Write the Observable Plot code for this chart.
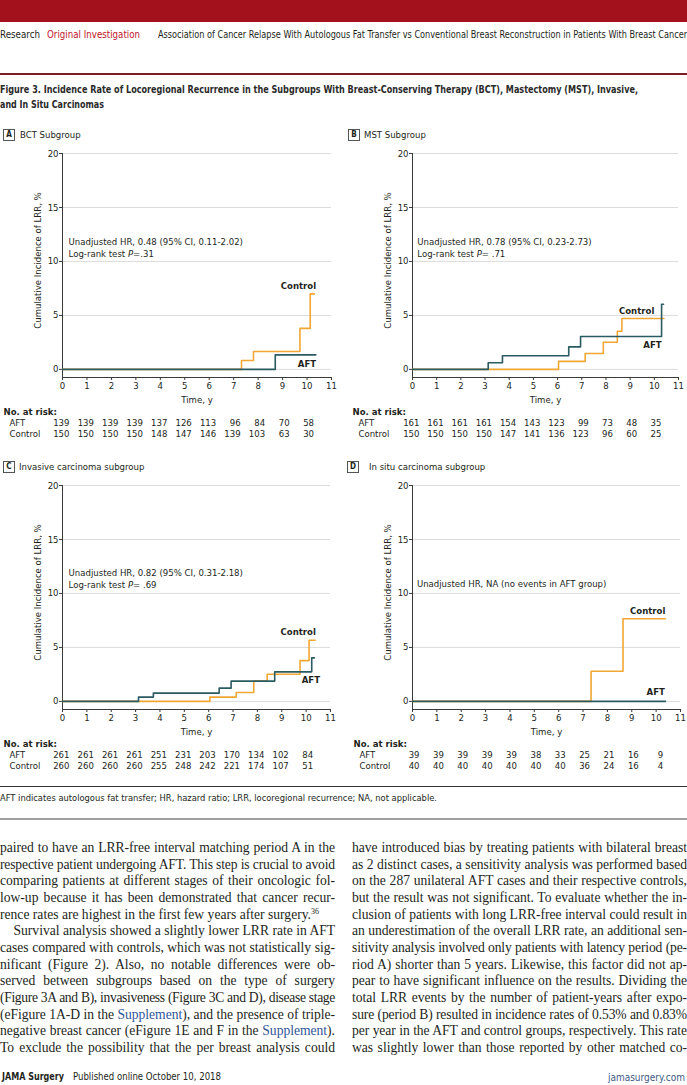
<!DOCTYPE html>
<html><head><meta charset="utf-8">
<script src="https://cdn.jsdelivr.net/npm/d3@7"></script>
<script src="https://cdn.jsdelivr.net/npm/@observablehq/plot@0.6"></script>
<style>
html,body{margin:0;padding:0;background:#fff;}
#page{position:relative;width:687px;height:1085px;overflow:hidden;color:#231f20;
  font-family:"Liberation Sans Narrow","DejaVu Sans Condensed","Open Sans",sans-serif;}
.abs{position:absolute;white-space:nowrap;}
.fit{transform-origin:0 50%;}
.box{position:absolute;width:10px;height:10px;border:1px solid #555;font-size:8px;font-weight:bold;line-height:10px;text-align:center;}
.ptitle{position:absolute;font-size:9.5px;line-height:12px;white-space:nowrap;}
.body{position:absolute;font-family:"Liberation Serif","DejaVu Serif",serif;font-size:13.6px;color:#231f20;}
.ln{height:16.67px;line-height:16.67px;white-space:nowrap;text-align:justify;text-align-last:justify;overflow:visible;}
.ln.last{text-align-last:left;}
.sup{font-size:8px;vertical-align:5px;line-height:0;}
.link{color:#2f5597;}
svg{position:absolute;overflow:visible;}
</style></head>
<body><div id="page">
<div class="abs" style="left:0;top:0;width:687px;height:22px;background:#a3111c;"></div>
<div class="abs fit" data-w="40" style="left:0;top:29px;font-size:10px;line-height:12px;">Research</div>
<div class="abs fit" data-w="93" style="left:47px;top:29px;font-size:10px;line-height:12px;color:#c0142a;">Original Investigation</div>
<div class="abs fit" data-w="529" style="left:158px;top:29px;font-size:10px;line-height:12px;">Association of Cancer Relapse With Autologous Fat Transfer vs Conventional Breast Reconstruction in Patients With Breast Cancer</div>
<div class="abs" style="left:0;top:73px;width:687px;height:2px;background:#7d1b25;"></div>
<div class="abs fit" data-w="638" style="left:0;top:83px;font-size:10.5px;line-height:13px;font-weight:bold;color:#2a2a2a;">Figure 3. Incidence Rate of Locoregional Recurrence in the Subgroups With Breast-Conserving Therapy (BCT), Mastectomy (MST), Invasive,</div>
<div class="abs fit" data-w="104" style="left:0;top:98px;font-size:10.5px;line-height:13px;font-weight:bold;color:#2a2a2a;">and In Situ Carcinomas</div>

<div class="box" style="left:3px;top:129px;">A</div><div class="ptitle" style="left:20px;top:129px;">BCT Subgroup</div>
<div class="box" style="left:348px;top:129px;">B</div><div class="ptitle" style="left:364px;top:129px;">MST Subgroup</div>
<div class="box" style="left:3px;top:461px;">C</div><div class="ptitle" style="left:19px;top:461px;">Invasive carcinoma subgroup</div>
<div class="box" style="left:347px;top:461px;">D</div><div class="ptitle" style="left:369px;top:461px;">In situ carcinoma subgroup</div>

<div class="abs" style="left:0;top:786px;width:687px;height:1px;background:#333;"></div>
<div class="abs fit" data-w="437" style="left:0;top:792px;font-size:9.5px;line-height:12px;">AFT indicates autologous fat transfer; HR, hazard ratio; LRR, locoregional recurrence; NA, not applicable.</div>
<div class="abs" style="left:0;top:818px;width:687px;height:2px;background:#a0a0a0;"></div>

<div class="body" id="colL" style="left:0;top:840px;width:335px;"></div>
<div class="body" id="colR" style="left:352px;top:840px;width:335px;"></div>

<div class="abs fit" data-w="62" style="left:2px;top:1071px;font-size:10px;line-height:12px;font-weight:bold;">JAMA Surgery</div>
<div class="abs fit" data-w="148" style="left:73px;top:1071px;font-size:10px;line-height:12px;">Published online October 10, 2018</div>
<div class="abs" style="right:2px;top:1072px;font-size:10px;line-height:12px;color:#3d5a86;">jamasurgery.com</div>
</div>
<script>
// ---------- data ----------
const tickYears = [0,1,2,3,4,5,6,7,8,9,10,11];
const riskYears = [0,1,2,3,4,5,6,7,8,9,10];
const yTicks = [0,5,10,15,20];

// Panel A: BCT subgroup
const aAftT = [0, 8.7, 10.36];
const aAftV = [0, 1.35, 1.35];
const aCtrlT = [0, 7.32, 7.81, 9.71, 10.13, 10.3];
const aCtrlV = [0, 0.83, 1.66, 3.8, 7.0, 7.0];
const aRiskAft = [139,139,139,139,137,126,113,96,84,70,58];
const aRiskCtrl = [150,150,150,150,148,147,146,139,103,63,30];

// Panel B: MST subgroup
const bAftT = [0, 3.13, 3.72, 6.46, 6.95, 10.3, 10.38];
const bAftV = [0, 0.62, 1.26, 2.09, 3.05, 6.03, 6.03];
const bCtrlT = [0, 6.04, 7.14, 7.89, 8.47, 8.66, 10.4];
const bCtrlV = [0, 0.74, 1.48, 2.52, 3.54, 4.71, 4.71];
const bRiskAft = [161,161,161,161,154,143,123,99,73,48,35];
const bRiskCtrl = [150,150,150,150,147,141,136,123,96,60,25];

// Panel C: invasive carcinoma subgroup
const cAftT = [0, 3.12, 3.73, 6.43, 6.92, 8.71, 10.23, 10.34];
const cAftV = [0, 0.4, 0.77, 1.23, 1.88, 2.74, 4.03, 4.03];
const cCtrlT = [0, 6.05, 7.13, 7.85, 8.4, 9.75, 10.12, 10.37];
const cCtrlV = [0, 0.4, 0.83, 1.88, 2.52, 3.78, 5.66, 5.66];
const cRiskAft = [261,261,261,261,251,231,203,170,134,102,84];
const cRiskCtrl = [260,260,260,260,255,248,242,221,174,107,51];

// Panel D: in situ carcinoma subgroup
const dAftT = [0, 10.38];
const dAftV = [0, 0];
const dCtrlT = [0, 7.33, 8.64, 10.38];
const dCtrlV = [0, 2.8, 7.66, 7.66];
const dRiskAft = [39,39,39,39,39,38,33,25,21,16,9];
const dRiskCtrl = [40,40,40,40,40,40,40,36,24,16,4];

const annA = ["Unadjusted HR, 0.48 (95% CI, 0.11-2.02)", "Log-rank test P=.31"];
const annB = ["Unadjusted HR, 0.78 (95% CI, 0.23-2.73)", "Log-rank test P= .71"];
const annC = ["Unadjusted HR, 0.82 (95% CI, 0.31-2.18)", "Log-rank test P= .69"];
const annD = ["Unadjusted HR, NA (no events in AFT group)"];

const yLabel = "Cumulative Incidence of LRR, %";
const xLabel = "Time, y";
const riskTitle = "No. at risk:";

const bodyLeft = [
 "paired to have an LRR-free interval matching period A in the",
 "respective patient undergoing AFT. This step is crucial to avoid",
 "comparing patients at different stages of their oncologic fol-",
 "low-up because it has been demonstrated that cancer recur-",
 "rence rates are highest in the first few years after surgery.<span class='sup'>36</span>|last",
 "&emsp;Survival analysis showed a slightly lower LRR rate in AFT",
 "cases compared with controls, which was not statistically sig-",
 "nificant (Figure 2). Also, no notable differences were ob-",
 "served between subgroups based on the type of surgery",
 "(Figure 3A and B), invasiveness (Figure 3C and D), disease stage",
 "(eFigure 1A-D in the <span class='link'>Supplement</span>), and the presence of triple-",
 "negative breast cancer (eFigure 1E and F in the <span class='link'>Supplement</span>).",
 "To exclude the possibility that the per breast analysis could"
];
const bodyRight = [
 "have introduced bias by treating patients with bilateral breast",
 "as 2 distinct cases, a sensitivity analysis was performed based",
 "on the 287 unilateral AFT cases and their respective controls,",
 "but the result was not significant. To evaluate whether the in-",
 "clusion of patients with long LRR-free interval could result in",
 "an underestimation of the overall LRR rate, an additional sen-",
 "sitivity analysis involved only patients with latency period (pe-",
 "riod A) shorter than 5 years. Likewise, this factor did not ap-",
 "pear to have significant influence on the results. Dividing the",
 "total LRR events by the number of patient-years after expo-",
 "sure (period B) resulted in incidence rates of 0.53% and 0.83%",
 "per year in the AFT and control groups, respectively. This rate",
 "was slightly lower than those reported by other matched co-"
];

// ---------- drawing ----------
const ORANGE = "#f2a734", TEAL = "#2b5b62";
const FONT = '"Liberation Sans Narrow","DejaVu Sans Condensed","Open Sans",sans-serif';

function series(T, V){ return T.map((t,i)=>({t, v:V[i]})); }

function build(o, left, top){
  const aft = series(o.aftT, o.aftV);
  const ctrl = series(o.ctrlT, o.ctrlV);
  const riskA = riskYears.map((t,i)=>({t, n:o.riskAft[i]}));
  const riskC = riskYears.map((t,i)=>({t, n:o.riskCtrl[i]}));
  const labels = [
    {t:o.ctrlLab[0], v:o.ctrlLab[1], s:"Control"},
    {t:o.aftLab[0], v:o.aftLab[1], s:"AFT"}
  ];
  const svg = Plot.plot({
    width:o.width, height:302,
    marginLeft:o.ml, marginRight:o.mr, marginTop:10, marginBottom:68,
    style:{fontFamily:FONT, fontSize:"9.5px", color:"#231f20", background:"transparent", overflow:"visible"},
    x:{domain:[0,11]},
    y:{domain:[-0.75,20]},
    marks:[
      Plot.ruleY(yTicks, {stroke:"#dcdcdc", strokeWidth:1}),
      Plot.axisX({ticks:tickYears, tickSize:3, tickPadding:2, label:null, tickFormat:d=>d, stroke:"#3a3a3a"}),
      Plot.axisY({ticks:yTicks, tickSize:3, tickPadding:1, label:null, stroke:"#3a3a3a"}),
      Plot.ruleX([0], {y1:-0.75, y2:20, stroke:"#3a3a3a", strokeWidth:1}),
      Plot.ruleY([-0.75], {x1:0, x2:11, stroke:"#3a3a3a", strokeWidth:1}),
      Plot.line(ctrl, {x:"t", y:"v", curve:"step-after", stroke:ORANGE, strokeWidth:1.6}),
      Plot.line(aft, {x:"t", y:"v", curve:"step-after", stroke:TEAL, strokeWidth:1.6}),
      Plot.text(labels, {x:"t", y:"v", text:"s", textAnchor:"end", fontWeight:"bold"}),
      Plot.text([o.ann.join("\n")], {x:o.annPos[0], y:o.annPos[1], textAnchor:"start", lineHeight:1.18}),
      Plot.text([yLabel], {frameAnchor:"left", textAnchor:"middle", rotate:-90, dx:-25, dy:-5}),
      Plot.text([xLabel], {frameAnchor:"bottom", textAnchor:"middle", dy:25}),
      Plot.text([riskTitle], {x:[0], frameAnchor:"bottom", dx:o.titleDx, dy:37, textAnchor:"start", fontWeight:"bold"}),
      Plot.text(["AFT"], {x:[0], frameAnchor:"bottom", dx:o.rowDx, dy:48.5, textAnchor:"start"}),
      Plot.text(["Control"], {x:[0], frameAnchor:"bottom", dx:o.rowDx, dy:59, textAnchor:"start"}),
      Plot.text(riskA, {x:"t", frameAnchor:"bottom", text:"n", textAnchor:"end", dx:7, dy:48.5}),
      Plot.text(riskC, {x:"t", frameAnchor:"bottom", text:"n", textAnchor:"end", dx:7, dy:59})
    ]
  });
  svg.style.left = left+"px"; svg.style.top = top+"px";
  // italic P in log-rank text
  svg.querySelectorAll("tspan, text").forEach(el=>{
    if (el.childElementCount===0 && /^Log-rank test P/.test(el.textContent)) {
      const rest = el.textContent.replace(/^Log-rank test P/, "");
      el.textContent = "Log-rank test ";
      const it = document.createElementNS("http://www.w3.org/2000/svg","tspan");
      it.setAttribute("font-style","italic"); it.textContent = "P";
      el.appendChild(it);
      el.appendChild(document.createTextNode(rest));
    }
  });
  document.getElementById("page").appendChild(svg);
}

build({width:345, ml:62, mr:14, aftT:aAftT, aftV:aAftV, ctrlT:aCtrlT, ctrlV:aCtrlV,
  riskAft:aRiskAft, riskCtrl:aRiskCtrl, ann:annA, annPos:[0.25,11.3],
  ctrlLab:[10.37,7.75], aftLab:[10.37,0.55], titleDx:-59, rowDx:-53}, 0, 143);
build({width:342, ml:67, mr:9, aftT:bAftT, aftV:bAftV, ctrlT:bCtrlT, ctrlV:bCtrlV,
  riskAft:bRiskAft, riskCtrl:bRiskCtrl, ann:annB, annPos:[0.2,11.3],
  ctrlLab:[10.0,5.45], aftLab:[10.3,2.3], titleDx:-60, rowDx:-54}, 345, 143);
build({width:345, ml:62, mr:15, aftT:cAftT, aftV:cAftV, ctrlT:cCtrlT, ctrlV:cCtrlV,
  riskAft:cRiskAft, riskCtrl:cRiskCtrl, ann:annC, annPos:[0.25,11.4],
  ctrlLab:[10.4,6.4], aftLab:[10.57,2.0], titleDx:-59, rowDx:-53}, 0, 475);
build({width:342, ml:67, mr:7, aftT:dAftT, aftV:dAftV, ctrlT:dCtrlT, ctrlV:dCtrlV,
  riskAft:dRiskAft, riskCtrl:dRiskCtrl, ann:annD, annPos:[0.18,10.9],
  ctrlLab:[10.38,8.4], aftLab:[10.36,0.85], titleDx:-59, rowDx:-53}, 345, 475);

// body columns
function fillCol(id, lines){
  const col = document.getElementById(id);
  lines.forEach(s=>{
    const last = s.endsWith("|last");
    const html = last ? s.slice(0,-5) : s;
    const d = document.createElement("div");
    d.className = "ln" + (last ? " last" : "");
    const sp = document.createElement("span");
    sp.innerHTML = html;
    d.appendChild(sp);
    col.appendChild(d);
    const w = sp.getBoundingClientRect().width;
    const target = col.clientWidth;
    if (w > target - 1) {
      const n = sp.textContent.length;
      d.style.letterSpacing = ((target - 1 - w) / n) + "px";
    }
  });
}
fillCol("colL", bodyLeft);
fillCol("colR", bodyRight);

// fit single-line texts to reference widths
document.querySelectorAll(".fit").forEach(el=>{
  const target = +el.dataset.w;
  const w = el.getBoundingClientRect().width;
  if (target && w) el.style.transform = `scaleX(${target/w})`;
});
</script>
</body></html>
